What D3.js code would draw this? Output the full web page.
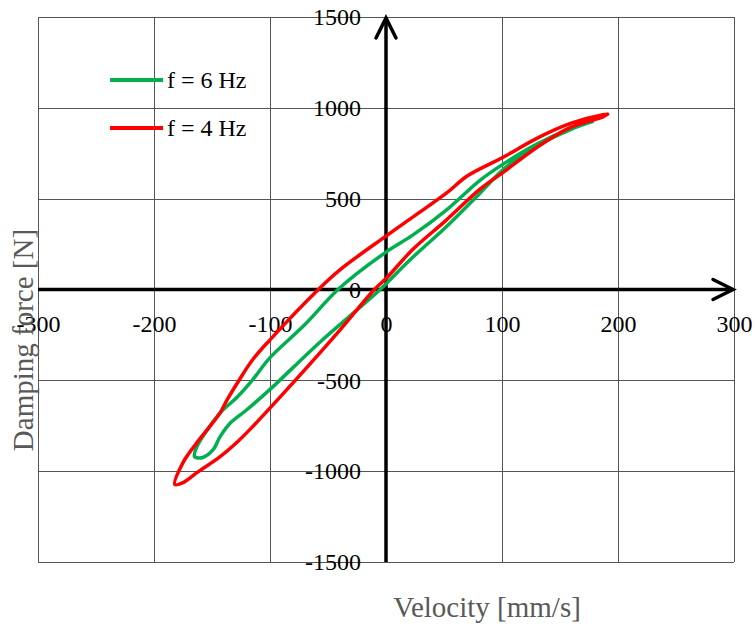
<!DOCTYPE html>
<html>
<head>
<meta charset="utf-8">
<script src="https://cdn.jsdelivr.net/npm/d3@7"></script>
<style>
  body { margin: 0; background: #fff; }
  text { font-family: "Liberation Serif", "Times New Roman", serif; }
</style>
</head>
<body>
<svg width="755" height="627"></svg>
<script>
var width = 755;
var height = 627;

// f = 6 Hz loop (velocity mm/s, force N), traced from the right tip
var vel6   = [178, 159, 130, 101, 81, 52, 23, 0, -40, -71, -100, -115, -128, -143, -154, -163, -165,
              -158, -149, -143, -134, -120, -100, -57, -22, -5, 21, 52, 81, 101, 130, 159, 178];
var force6 = [925, 885, 800, 690, 601, 437, 299, 206, 8, -200, -375, -497, -590, -679, -772, -865, -920,
              -925, -882, -810, -734, -662, -550, -290, -96, 0, 165, 345, 530, 660, 790, 880, 925];

// f = 4 Hz loop
var vel4   = [191, 187, 159, 130, 101, 70, 52, 23, 0, -40, -57, -100, -115, -128, -137, -143, -152, -163, -175, -182,
              -175, -163, -143, -128, -115, -91, -42, -10, 0, 23, 52, 81, 101, 130, 159, 187, 191];
var force4 = [965, 962, 914, 832, 728, 625, 530, 398, 294, 107, 8, -277, -387, -513, -607, -679, -755, -843, -953, -1074,
              -1063, -1008, -920, -838, -755, -590, -240, 0, 60, 220, 382, 552, 645, 782, 892, 950, 965];

var xTicks = [-300, -200, -100, 0, 100, 200, 300];
var yTicks = [-1500, -1000, -500, 0, 500, 1000, 1500];

var series = [
  {name: "f = 6 Hz", color: "#00B050", vel: vel6, force: force6},
  {name: "f = 4 Hz", color: "#FF0000", vel: vel4, force: force4}
];

var xScale = d3.scaleLinear().domain([-300, 300]).range([38, 734]);
var yScale = d3.scaleLinear().domain([-1500, 1500]).range([562, 17]);

var svg = d3.select("svg")
    .attr("width", width)
    .attr("height", height);

// gridlines
var xGrid = d3.axisBottom(xScale)
    .tickValues(xTicks)
    .tickSize(-(562 - 17))
    .tickFormat("");
var yGrid = d3.axisLeft(yScale)
    .tickValues(yTicks)
    .tickSize(-(734 - 38))
    .tickFormat("");

svg.append("g")
    .attr("transform", "translate(0,562)")
    .call(xGrid)
    .call(g => g.select(".domain").remove())
    .selectAll("line")
      .attr("stroke", "#555")
      .attr("shape-rendering", "crispEdges");

svg.append("g")
    .attr("transform", "translate(38,0)")
    .call(yGrid)
    .call(g => g.select(".domain").remove())
    .selectAll("line")
      .attr("stroke", "#555")
      .attr("shape-rendering", "crispEdges");

// tick labels through the zero lines
var x0 = xScale(0);
var y0 = yScale(0);

svg.append("g")
    .attr("transform", "translate(0," + y0 + ")")
    .call(d3.axisBottom(xScale).tickValues(xTicks).tickSize(0).tickPadding(25).tickFormat(d => String(d)))
    .call(g => g.select(".domain").remove())
    .attr("font-family", "Liberation Serif")
    .attr("font-size", 24)
    .selectAll("text")
      .attr("fill", "#000");

svg.append("g")
    .attr("transform", "translate(" + x0 + ",0)")
    .call(d3.axisLeft(yScale).tickValues(yTicks).tickSize(0).tickPadding(25).tickFormat(d => String(d)))
    .call(g => g.select(".domain").remove())
    .attr("font-family", "Liberation Serif")
    .attr("font-size", 24)
    .selectAll("text")
      .attr("fill", "#000");

// main axes with open arrow heads
var axisG = svg.append("g")
    .attr("stroke", "#000")
    .attr("stroke-width", 3.5)
    .attr("fill", "none");

axisG.append("line")
    .attr("x1", xScale(-300)).attr("x2", xScale(300) - 1)
    .attr("y1", y0).attr("y2", y0);
axisG.append("path")
    .attr("stroke-linecap", "round")
    .attr("d", "M" + (xScale(300) - 21) + "," + (y0 - 10) + "L" + (xScale(300) - 1) + "," + y0 +
               "L" + (xScale(300) - 21) + "," + (y0 + 10));

axisG.append("line")
    .attr("x1", x0).attr("x2", x0)
    .attr("y1", yScale(-1500)).attr("y2", yScale(1500) + 1);
axisG.append("path")
    .attr("stroke-linecap", "round")
    .attr("d", "M" + (x0 - 10) + "," + (yScale(1500) + 21) + "L" + x0 + "," + (yScale(1500) + 1) +
               "L" + (x0 + 10) + "," + (yScale(1500) + 21));

// hysteresis loops
var line = d3.line()
    .x(d => xScale(d[0]))
    .y(d => yScale(d[1]))
    .curve(d3.curveCatmullRom.alpha(0.5));

svg.append("g")
  .selectAll("path")
  .data(series)
  .enter()
  .append("path")
    .attr("d", d => line(d.vel.map((v, i) => [v, d.force[i]])))
    .attr("fill", "none")
    .attr("stroke", d => d.color)
    .attr("stroke-width", 3.5)
    .attr("stroke-linejoin", "round")
    .attr("stroke-linecap", "round");

// legend
var legend = svg.append("g")
  .selectAll("g")
  .data(series)
  .enter()
  .append("g")
    .attr("transform", (d, i) => "translate(0," + (80 + i * 48) + ")");

legend.append("line")
    .attr("x1", 110).attr("x2", 163)
    .attr("stroke", d => d.color)
    .attr("stroke-width", 4);

legend.append("text")
    .attr("x", 167)
    .attr("y", 8)
    .style("font-size", "24px")
    .text(d => d.name);

// axis titles
svg.append("text")
    .attr("x", 487)
    .attr("y", 617)
    .style("text-anchor", "middle")
    .style("font-size", "29px")
    .attr("fill", "#595959")
    .text("Velocity [mm/s]");

svg.append("text")
    .attr("transform", "rotate(-90)")
    .attr("x", -340)
    .attr("y", 33)
    .style("text-anchor", "middle")
    .style("font-size", "29px")
    .attr("fill", "#595959")
    .text("Damping force [N]");
</script>
</body>
</html>
